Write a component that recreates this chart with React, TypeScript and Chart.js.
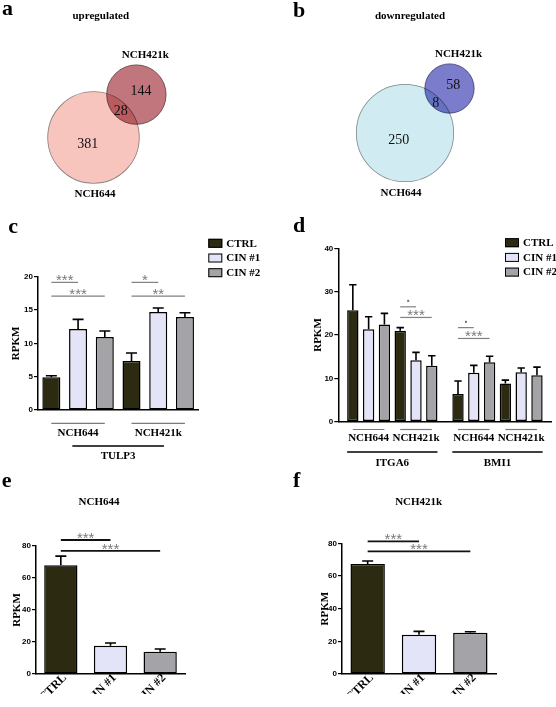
import React, { useEffect, useRef } from 'react';
import { Chart, registerables } from 'chart.js';

Chart.register(...registerables);

const W = 556;
const H = 707;
const SERIF = '"Liberation Serif", "Times New Roman", serif';
const SANS = '"Liberation Sans", Arial, sans-serif';

// ---------------- data ----------------
const SERIES = ['CTRL', 'CIN #1', 'CIN #2'];
const SERIES_COLORS = ['#2c2b12', '#e4e4f8', '#a4a4a8'];

const VENN_SETS = ['NCH644', 'NCH421k'];
// [only NCH644, shared, only NCH421k]
const UP_COUNTS = [381, 28, 144];
const DOWN_COUNTS = [250, 8, 58];

const C_GENE = 'TULP3';
const C_CELLS = ['NCH644', 'NCH421k'];
const C_CTRL = [4.9, 7.35];
const C_CIN1 = [12.15, 14.7];
const C_CIN2 = [10.95, 13.95];
const C_CTRL_ERR = [0.25, 1.2];
const C_CIN1_ERR = [1.45, 0.6];
const C_CIN2_ERR = [0.9, 0.65];
const C_Y_TICKS = [0, 5, 10, 15, 20];
// [seriesA, groupA, seriesB, groupB, label, y]
const C_SIG: any[] = [
  [0, 0, 1, 0, '***', 19.15],
  [0, 0, 2, 0, '***', 17.1],
  [0, 1, 1, 1, '*', 19.15],
  [0, 1, 2, 1, '**', 17.1],
];

const D_GENES = ['ITGA6', 'BMI1'];
const D_CELLS = ['NCH644', 'NCH421k'];
const D_CTRL = [25.7, 21.0, 6.4, 8.8];
const D_CIN1 = [21.3, 14.2, 11.3, 11.4];
const D_CIN2 = [22.4, 12.9, 13.7, 10.7];
const D_CTRL_ERR = [5.9, 0.7, 3.0, 0.8];
const D_CIN1_ERR = [2.9, 1.8, 1.7, 1.0];
const D_CIN2_ERR = [2.6, 2.3, 1.4, 1.9];
const D_Y_TICKS = [0, 10, 20, 30, 40];
const D_SIG: any[] = [
  [0, 1, 1, 1, '.', 26.5],
  [0, 1, 2, 1, '***', 24.05],
  [0, 2, 1, 2, '.', 21.7],
  [0, 2, 2, 2, '***', 19.2],
];

const E_CELL = 'NCH644';
const E_VALUES = [67.9, 17.7, 13.9];
const E_ERR = [5.8, 1.7, 1.7];
const E_SIG: any[] = [
  [0, 0, 0, 1, '***', 83.75],
  [0, 0, 0, 2, '***', 76.9],
];
const F_CELL = 'NCH421k';
const F_VALUES = [67.3, 24.1, 25.3];
const F_ERR = [1.9, 2.0, 0.6];
const F_SIG: any[] = [
  [0, 0, 0, 1, '***', 81.2],
  [0, 0, 0, 2, '***', 75.1],
];
const EF_Y_TICKS = [0, 20, 40, 60, 80];

// ---------------- helpers ----------------
function drawText(ctx: CanvasRenderingContext2D, s: string, x: number, y: number, font: string,
  color = '#000', align: CanvasTextAlign = 'center', baseline: CanvasTextBaseline = 'middle') {
  ctx.save();
  ctx.font = font;
  ctx.fillStyle = color;
  ctx.textAlign = align;
  ctx.textBaseline = baseline;
  ctx.fillText(s, x, y);
  ctx.restore();
}

function line(ctx: CanvasRenderingContext2D, x1: number, y1: number, x2: number, y2: number, color: string, w: number) {
  ctx.save();
  ctx.strokeStyle = color;
  ctx.lineWidth = w;
  ctx.beginPath();
  ctx.moveTo(x1, y1);
  ctx.lineTo(x2, y2);
  ctx.stroke();
  ctx.restore();
}

const LETTER_FONT = `bold 22px ${SERIF}`;
const LABEL_FONT = `bold 11px ${SERIF}`;

// ---------------- Venn ----------------
function makeVenn(canvas: HTMLCanvasElement, counts: number[], L: any) {
  const [onlyA, shared, onlyB] = counts;
  const totA = onlyA + shared;
  const totB = shared + onlyB;
  const maxT = Math.max(totA, totB);
  const rA = L.bigR * Math.sqrt(totA / maxT);
  const rB = L.bigR * Math.sqrt(totB / maxT);
  const d = (rA + rB) * L.overlap;
  const ang = Math.PI / 4;

  const plugin = {
    id: 'vennDecor',
    // datasets are painted last-to-first, so dataset 0 is painted on top: blend it
    beforeDatasetDraw(chart: any, args: any) {
      if (args.index === 0) chart.ctx.globalCompositeOperation = 'multiply';
    },
    afterDatasetDraw(chart: any, args: any) {
      if (args.index === 0) chart.ctx.globalCompositeOperation = 'source-over';
    },
    afterDraw(chart: any) {
      const ctx = chart.ctx as CanvasRenderingContext2D;
      const a: any = chart.getDatasetMeta(0).data[0];
      const b: any = chart.getDatasetMeta(1).data[0];
      const ra = a.options.radius;
      const rb = b.options.radius;
      const dx = b.x - a.x;
      const dy = b.y - a.y;
      const dist = Math.hypot(dx, dy);
      const ux = dx / dist;
      const uy = dy / dist;
      const numFont = `14px ${SERIF}`;
      drawText(ctx, String(onlyA), a.x - ux * ra * 0.18, a.y - uy * ra * 0.18 + 1, numFont, '#111');
      drawText(ctx, String(onlyB), b.x + ux * rb * 0.22, b.y + uy * rb * 0.22 + 1, numFont, '#111');
      const e1x = a.x + ux * ra, e1y = a.y + uy * ra;
      const e2x = b.x - ux * rb, e2y = b.y - uy * rb;
      drawText(ctx, String(shared), (e1x + e2x) / 2, (e1y + e2y) / 2 + 1, numFont, '#111');
      drawText(ctx, chart.data.datasets[1].label, b.x + 9, b.y - rb - 9.5, LABEL_FONT);
      drawText(ctx, chart.data.datasets[0].label, a.x + L.bigLabelDx, a.y + ra + 11, LABEL_FONT);
      drawText(ctx, L.title, L.titlePos[0], L.titlePos[1], LABEL_FONT);
      drawText(ctx, L.letter, L.letterPos[0], L.letterPos[1], LETTER_FONT, '#000', 'left', 'alphabetic');
    },
  };

  return new Chart(canvas, {
    type: 'bubble',
    data: {
      datasets: [
        {
          label: VENN_SETS[0],
          data: [{ x: 0, y: 0, r: rA }],
          backgroundColor: L.colors[0],
          borderColor: L.borders[0],
          borderWidth: 0.8,
        },
        {
          label: VENN_SETS[1],
          data: [{ x: d * Math.cos(ang), y: d * Math.sin(ang), r: rB }],
          backgroundColor: L.colors[1],
          borderColor: L.borders[1],
          borderWidth: 0.8,
        },
      ],
    },
    options: {
      responsive: false,
      animation: false,
      events: [],
      layout: { autoPadding: false, padding: 0 },
      plugins: { legend: { display: false }, tooltip: { enabled: false } },
      scales: {
        x: { type: 'linear', display: false, min: -L.bigCenter[0], max: W - L.bigCenter[0] },
        y: { type: 'linear', display: false, min: L.bigCenter[1] - H, max: L.bigCenter[1] },
      },
    } as any,
    plugins: [plugin],
  });
}

// ---------------- Bar panels ----------------
function barDecor(cfg: any) {
  return {
    id: 'barDecor',
    afterDatasetsDraw(chart: any) {
      const ctx = chart.ctx as CanvasRenderingContext2D;
      const ys = chart.scales.y;
      const n = chart.data.datasets.length;
      const el = (ds: number, idx: number): any => chart.getDatasetMeta(ds).data[idx];

      // error bars (mean + SEM, upward)
      chart.data.datasets.forEach((_: any, i: number) => {
        chart.getDatasetMeta(i).data.forEach((e: any, j: number) => {
          const top = ys.getPixelForValue(cfg.values[i][j] + cfg.errors[i][j]);
          const cap = Math.min(e.width * 0.65, 11);
          ctx.save();
          ctx.strokeStyle = '#000';
          ctx.lineWidth = 1.6;
          ctx.beginPath();
          ctx.moveTo(e.x, e.y);
          ctx.lineTo(e.x, top);
          ctx.moveTo(e.x - cap / 2, top);
          ctx.lineTo(e.x + cap / 2, top);
          ctx.stroke();
          ctx.restore();
        });
      });

      // significance brackets
      cfg.sig.forEach((s: any[]) => {
        const xa = el(s[0], s[1]).x;
        const xb = el(s[2], s[3]).x;
        const yp = ys.getPixelForValue(s[5]);
        line(ctx, xa, yp, xb, yp, cfg.sigColor, cfg.sigWidth);
        const star = String(s[4]).includes('*');
        drawText(ctx, s[4], (xa + xb) / 2, star ? yp + 3 : yp - 4.5,
          star ? `15px ${SANS}` : `bold 14px ${SANS}`, '#7a7a7a', 'center', 'alphabetic');
      });

      // group labels under the axis
      if (cfg.groups) {
        cfg.groups.forEach((name: string, g: number) => {
          const f = el(0, g);
          const l = el(n - 1, g);
          line(ctx, f.x, cfg.groupLineY, l.x, cfg.groupLineY, '#7a7a7a', 1.2);
          drawText(ctx, name, (f.x + l.x) / 2, cfg.groupTextY, LABEL_FONT);
        });
      }
      if (cfg.genes) {
        cfg.genes.forEach((gn: any) => {
          const f = el(0, gn.from);
          const l = el(n - 1, gn.to);
          const x0 = f.x - f.width / 2 + cfg.geneInset;
          const x1 = l.x + l.width / 2 - cfg.geneInset;
          line(ctx, x0, cfg.geneLineY, x1, cfg.geneLineY, '#000', 1.6);
          drawText(ctx, gn.name, (x0 + x1) / 2, cfg.geneTextY, LABEL_FONT);
        });
      }

      // legend
      if (cfg.legend) {
        chart.data.datasets.forEach((ds: any, i: number) => {
          const cy = cfg.legend.y + i * 14.7;
          ctx.save();
          ctx.fillStyle = ds.backgroundColor;
          ctx.fillRect(cfg.legend.x, cy - 4.5, 14, 9);
          ctx.strokeStyle = '#000';
          ctx.lineWidth = 1;
          ctx.strokeRect(cfg.legend.x + 0.5, cy - 4, 13, 8);
          ctx.restore();
          drawText(ctx, ds.label, cfg.legend.x + 18, cy + 0.5, LABEL_FONT, '#000', 'left', 'middle');
        });
      }

      if (cfg.title) drawText(ctx, cfg.title.text, cfg.title.x, cfg.title.y, LABEL_FONT);
      drawText(ctx, cfg.letter.text, cfg.letter.x, cfg.letter.y, LETTER_FONT, '#000', 'left', 'alphabetic');
    },
  };
}

function makeBar(canvas: HTMLCanvasElement, o: any) {
  const yw = o.area.left - (o.titleX - 6.6);
  const ticks: number[] = o.yTicks;
  return new Chart(canvas, {
    type: 'bar',
    data: { labels: o.labels, datasets: o.datasets },
    options: {
      responsive: false,
      animation: false,
      events: [],
      layout: {
        autoPadding: false,
        padding: {
          left: o.area.left - yw,
          top: o.area.top,
          right: W - o.area.right,
          bottom: H - o.area.bottom - o.xh,
        },
      },
      plugins: { legend: { display: false }, tooltip: { enabled: false } },
      scales: {
        x: { ...o.xScale, afterFit: (s: any) => { s.height = o.xh; } },
        y: {
          type: 'linear',
          min: ticks[0],
          max: ticks[ticks.length - 1],
          afterBuildTicks: (s: any) => { s.ticks = ticks.map((v) => ({ value: v })); },
          afterFit: (s: any) => { s.width = yw; },
          ticks: { font: { family: SANS, size: 8, weight: 'bold' }, color: '#000', padding: 1 },
          grid: { display: true, drawOnChartArea: false, drawTicks: true, tickLength: 4, color: '#000', lineWidth: 1.2 },
          border: { display: true, color: '#000', width: 1.5 },
          title: { display: true, text: 'RPKM', color: '#000', font: { family: SERIF, size: 11, weight: 'bold' }, padding: 0 },
        },
      },
    } as any,
    plugins: [o.plugin],
  });
}

const barStyle = { borderColor: '#000', borderWidth: 1.5, borderSkipped: false };

function makeC(canvas: HTMLCanvasElement) {
  const values = [C_CTRL, C_CIN1, C_CIN2];
  const errors = [C_CTRL_ERR, C_CIN1_ERR, C_CIN2_ERR];
  return makeBar(canvas, {
    area: { left: 38, top: 276.7, right: 198.3, bottom: 410 },
    titleX: 16,
    yTicks: C_Y_TICKS,
    xh: 0,
    labels: C_CELLS,
    datasets: values.map((v, i) => ({
      label: SERIES[i], data: v, backgroundColor: SERIES_COLORS[i], ...barStyle,
      barPercentage: 0.675, categoryPercentage: 1,
    })),
    xScale: {
      type: 'category', offset: true,
      ticks: { display: false }, grid: { display: false },
      border: { display: true, color: '#000', width: 1.5 },
    },
    plugin: barDecor({
      values, errors, sig: C_SIG, sigColor: '#808080', sigWidth: 1.2,
      groups: C_CELLS, groupLineY: 423.3, groupTextY: 433.5,
      genes: [{ name: C_GENE, from: 0, to: 1 }], geneInset: 30, geneLineY: 446, geneTextY: 456.5,
      legend: { x: 208.3, y: 243.3 },
      letter: { text: 'c', x: 8.3, y: 232.7 },
    }),
  });
}

function makeD(canvas: HTMLCanvasElement) {
  const GENE_GAP = 0.22;
  const pos: number[] = [];
  D_GENES.forEach((_, g) => D_CELLS.forEach((__, c) => pos.push(g * (D_CELLS.length + GENE_GAP) + c)));
  const groups: string[] = [];
  D_GENES.forEach(() => D_CELLS.forEach((c) => groups.push(c)));
  const values = [D_CTRL, D_CIN1, D_CIN2];
  const errors = [D_CTRL_ERR, D_CIN1_ERR, D_CIN2_ERR];
  return makeBar(canvas, {
    area: { left: 338.3, top: 248.3, right: 551.5, bottom: 421.7 },
    titleX: 318,
    yTicks: D_Y_TICKS,
    xh: 0,
    datasets: values.map((v, i) => ({
      label: SERIES[i], data: v.map((y, k) => ({ x: pos[k], y })), backgroundColor: SERIES_COLORS[i], ...barStyle,
      barPercentage: 0.72, categoryPercentage: 1,
    })),
    xScale: {
      type: 'linear', offset: false, min: -0.64, max: 3.86,
      afterBuildTicks: (s: any) => { s.ticks = pos.map((v) => ({ value: v })); },
      ticks: { display: false }, grid: { display: false },
      border: { display: true, color: '#000', width: 1.5 },
    },
    plugin: barDecor({
      values, errors, sig: D_SIG, sigColor: '#808080', sigWidth: 1.2,
      groups, groupLineY: 429.5, groupTextY: 438.5,
      genes: D_GENES.map((name, g) => ({ name, from: g * D_CELLS.length, to: g * D_CELLS.length + D_CELLS.length - 1 })),
      geneInset: 0, geneLineY: 452, geneTextY: 463.5,
      legend: { x: 505, y: 242.7 },
      letter: { text: 'd', x: 293, y: 231.7 },
    }),
  });
}

function makeEF(canvas: HTMLCanvasElement, o: any) {
  return makeBar(canvas, {
    area: o.area,
    titleX: o.titleX,
    yTicks: EF_Y_TICKS,
    xh: 20,
    labels: SERIES,
    datasets: [{
      label: o.cell, data: o.values, backgroundColor: SERIES_COLORS, ...barStyle,
      barPercentage: 0.67, categoryPercentage: 1,
    }],
    xScale: {
      type: 'category', offset: true,
      ticks: { display: true, autoSkip: false, minRotation: 45, maxRotation: 45, padding: -11, labelOffset: 4, color: '#000', font: { family: SERIF, size: 12, weight: 'bold' } },
      grid: { display: false },
      border: { display: true, color: '#000', width: 1.5 },
    },
    plugin: barDecor({
      values: [o.values], errors: [o.errors], sig: o.sig, sigColor: '#111', sigWidth: 1.8,
      title: { text: o.cell, x: o.titleCx, y: 502 },
      letter: o.letter,
    }),
  });
}

// ---------------- App ----------------
export default function App() {
  const refs = useRef<(HTMLCanvasElement | null)[]>([]);

  useEffect(() => {
    const c = refs.current as HTMLCanvasElement[];
    const charts = [
      makeVenn(c[0], UP_COUNTS, {
        bigCenter: [93.5, 137.5], bigR: 45.8, overlap: 0.803, bigLabelDx: 1.5,
        colors: ['#f8c4be', '#c0767c'], borders: ['#8a8a8a', '#5a3a3a'],
        title: 'upregulated', titlePos: [100.8, 16.5], letter: 'a', letterPos: [2, 15],
      }),
      makeVenn(c[1], DOWN_COUNTS, {
        bigCenter: [405, 133], bigR: 48.7, overlap: 0.858, bigLabelDx: -4,
        colors: ['#d0ebf1', '#7c7ccc'], borders: ['#8a8a8a', '#3a3a6a'],
        title: 'downregulated', titlePos: [410, 16.5], letter: 'b', letterPos: [293, 16.7],
      }),
      makeC(c[2]),
      makeD(c[3]),
      makeEF(c[4], {
        area: { left: 36, top: 546, right: 185, bottom: 674 }, titleX: 17, titleCx: 99,
        cell: E_CELL, values: E_VALUES, errors: E_ERR, sig: E_SIG,
        letter: { text: 'e', x: 1.7, y: 486.7 },
      }),
      makeEF(c[5], {
        area: { left: 342, top: 543.3, right: 496, bottom: 674 }, titleX: 325, titleCx: 418.7,
        cell: F_CELL, values: F_VALUES, errors: F_ERR, sig: F_SIG,
        letter: { text: 'f', x: 293, y: 486.7 },
      }),
    ];
    return () => charts.forEach((ch) => ch.destroy());
  }, []);

  return (
    <div style={{ position: 'absolute', left: 0, top: 0, width: W, height: H, background: '#fff', overflow: 'hidden' }}>
      {[0, 1, 2, 3, 4, 5].map((i) => (
        <canvas
          key={i}
          ref={(el) => { refs.current[i] = el; }}
          width={W}
          height={H}
          style={{ position: 'absolute', left: 0, top: 0, width: W, height: H }}
        />
      ))}
    </div>
  );
}
